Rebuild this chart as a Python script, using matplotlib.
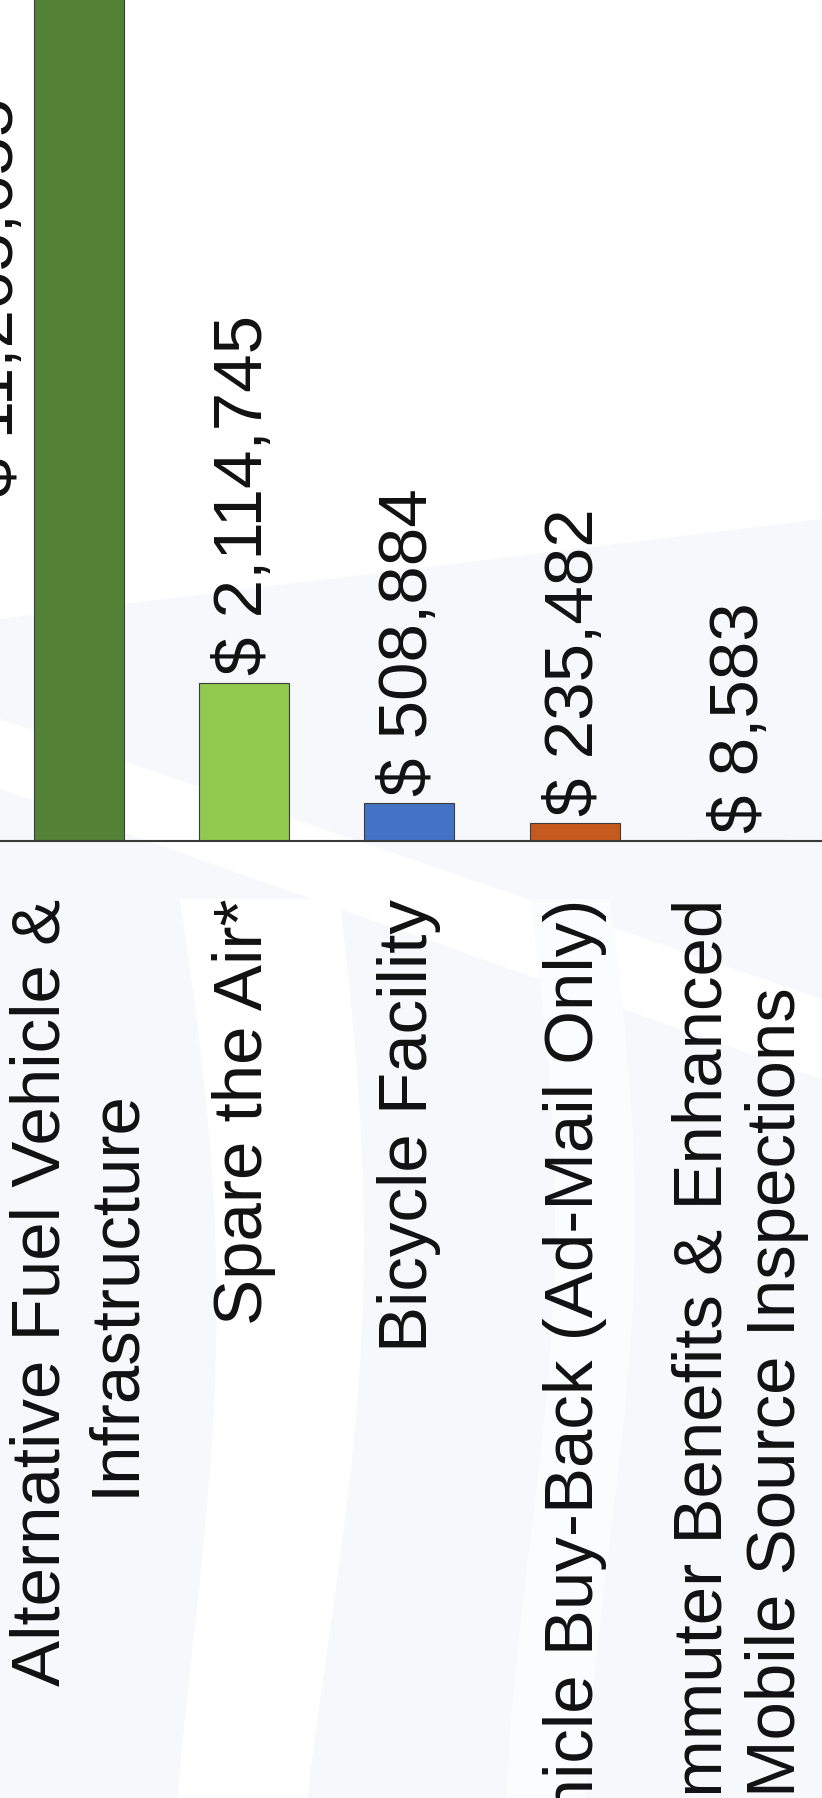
import matplotlib
matplotlib.use("Agg")
import matplotlib.pyplot as plt
from matplotlib.patches import Polygon
import numpy as np

# ---- data ----
categories = [
    "Alternative Fuel Vehicle &\nInfrastructure",
    "Spare the Air*",
    "Bicycle Facility",
    "Vehicle Buy-Back (Ad-Mail Only)",
    "Commuter Benefits & Enhanced\nMobile Source Inspections",
]
values = [11265655, 2114745, 508884, 235482, 8583]
colors = ["#538135", "#92C94F", "#4472C4", "#C55A1E", "#7F7F7F"]

plt.rcParams["font.family"] = ["Liberation Sans", "DejaVu Sans"]

W, H, DPI = 822, 1799, 100
FS = 49.8
fig = plt.figure(figsize=(W / DPI, H / DPI), dpi=DPI, facecolor="white")

# ---- faint watermark background (pixel coords from top-left) ----
def px(pts):
    return [(x / W, 1 - y / H) for x, y in pts]

def add_bg(pts, color):
    fig.patches.append(Polygon(px(pts), closed=True, transform=fig.transFigure,
                               facecolor=color, edgecolor="none", zorder=-5))

tint = "#f7f8fb"
add_bg([(0, 620), (822, 520), (822, 1799), (0, 1799)], tint)
add_bg([(0, 720), (0, 790), (822, 1080), (822, 1000)], "white")
ys = np.linspace(900, 1799, 60)
c1 = 260 + 30 * np.sin((ys - 900) / 899 * np.pi * 1.2)
w1 = 80 - 15 * (ys - 900) / 899
add_bg(list(zip(c1 - w1, ys)) + list(zip((c1 + w1)[::-1], ys[::-1])), "white")
c2 = 570 + 25 * np.sin((ys - 900) / 899 * np.pi * 1.4)
w2 = 40 + 0 * ys
add_bg(list(zip(c2 - w2, ys)) + list(zip((c2 + w2)[::-1], ys[::-1])), "#fbfcfd")

# ---- chart ----
axis_frac = (H - 842) / H
ax = fig.add_axes([0, axis_frac, 1, 1 - axis_frac])
ax.set_facecolor("none")

x = list(range(len(categories)))
bars = ax.bar(x, values, width=0.544, color=colors, edgecolor="#3c3c3c",
              linewidth=0.8, zorder=3)

ax.set_xlim(-0.475, 4.495)
ax.set_ylim(0, 11.25e6)

for s in ["top", "left", "right"]:
    ax.spines[s].set_visible(False)
ax.spines["bottom"].set_color("#3a3a3a")
ax.spines["bottom"].set_linewidth(1.5)
ax.spines["bottom"].set_zorder(4)
ax.set_yticks([])

ax.set_xticks(x)
ax.set_xticklabels(categories, rotation=90, fontsize=FS, color="#111111")
ax.tick_params(axis="x", length=0, pad=41)

# value labels
for i, (b, v) in enumerate(zip(bars, values)):
    txt = "$ {:,}".format(v)
    if i == 0:
        # label of the tallest bar sits beside it
        ax.text(b.get_x() + b.get_width() / 2 - 0.505, 4.62e6, txt,
                rotation=90, ha="center", va="bottom", fontsize=FS,
                color="#111111", clip_on=False, zorder=5)
    else:
        ax.annotate(txt, xy=(b.get_x() + b.get_width() / 2, v),
                    xytext=(0, 6), textcoords="offset points",
                    rotation=90, ha="center", va="bottom", fontsize=FS,
                    color="#111111", annotation_clip=False, zorder=5)

fig.savefig("out.png", dpi=DPI, facecolor=fig.get_facecolor())
